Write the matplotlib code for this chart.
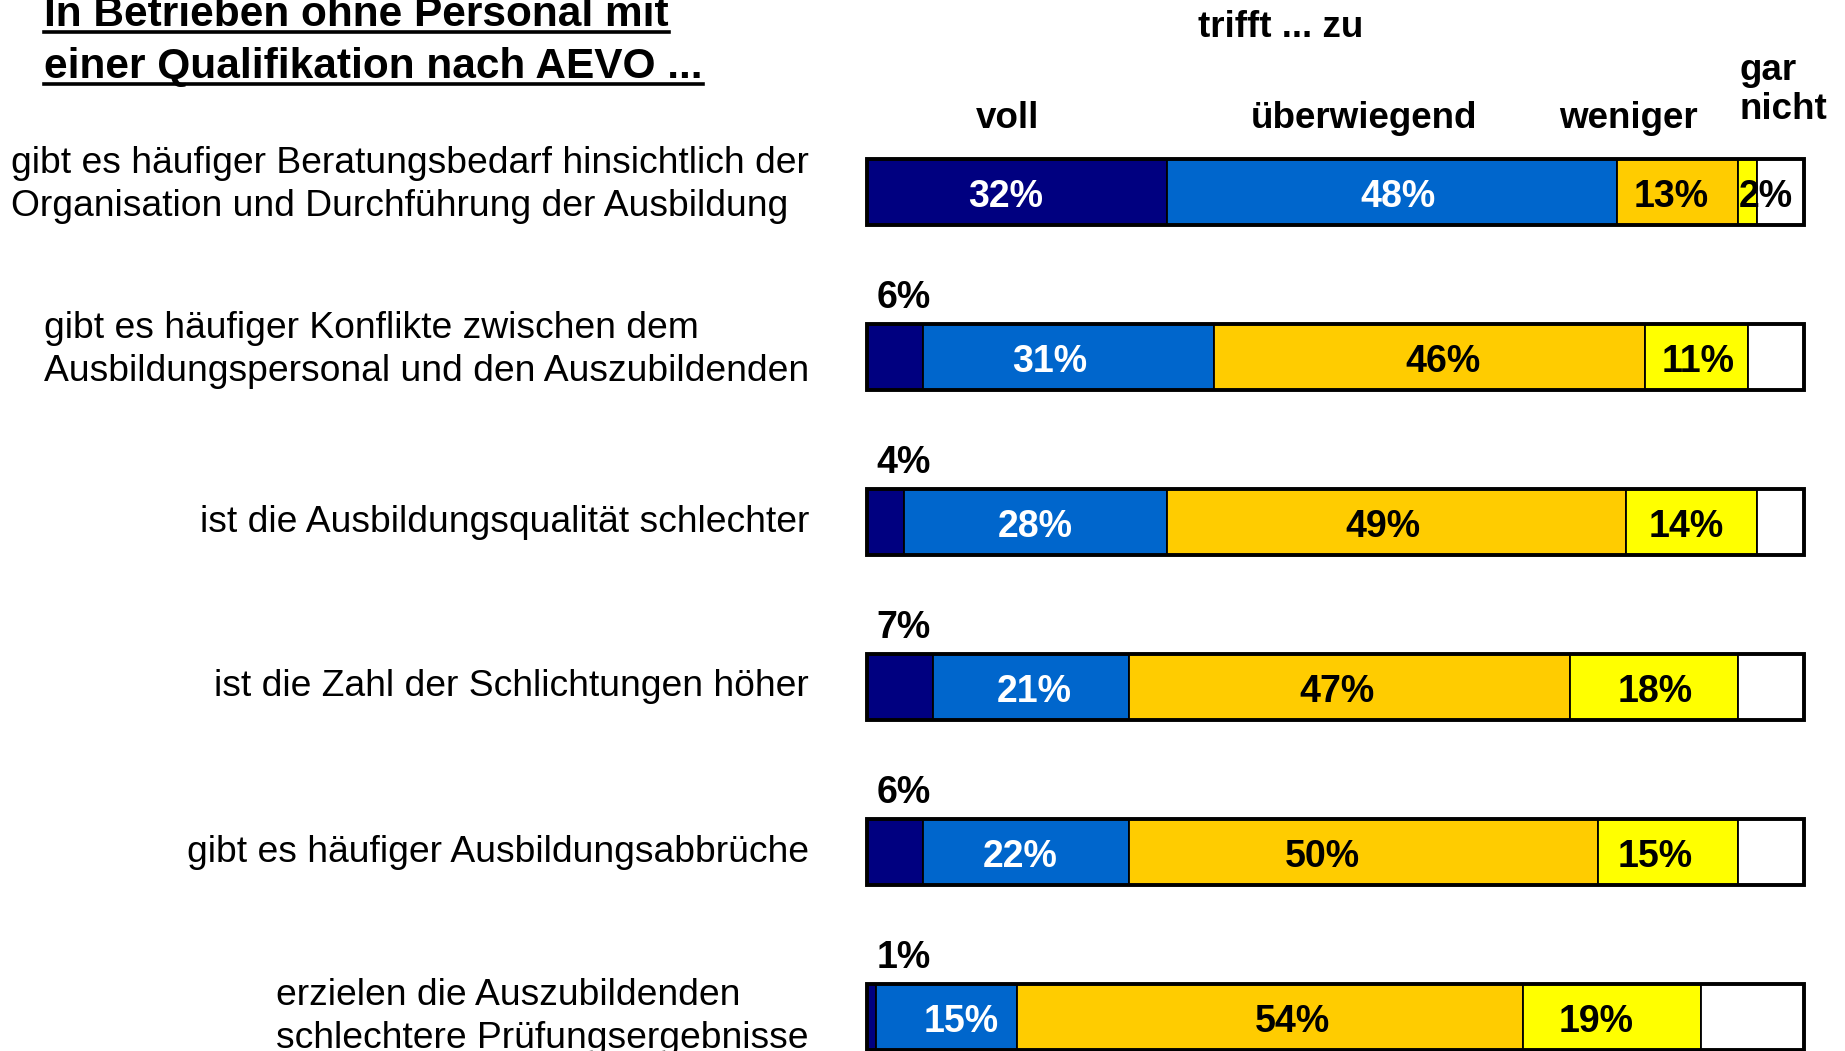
import matplotlib.pyplot as plt
import matplotlib.transforms as mtransforms
from matplotlib.lines import Line2D
import numpy as np

plt.rcParams['font.family'] = ['Liberation Sans', 'DejaVu Sans']

# Daten
aussagen = ['gibt es häufiger Beratungsbedarf hinsichtlich der\nOrganisation und Durchführung der Ausbildung',
            'gibt es häufiger Konflikte zwischen dem\nAusbildungspersonal und den Auszubildenden',
            'ist die Ausbildungsqualität schlechter',
            'ist die Zahl der Schlichtungen höher',
            'gibt es häufiger Ausbildungsabbrüche',
            'erzielen die Auszubildenden\nschlechtere Prüfungsergebnisse']
voll = [32, 6, 4, 7, 6, 1]
ueberwiegend = [48, 31, 28, 21, 22, 15]
weniger = [13, 46, 49, 47, 50, 54]
gar_nicht = [2, 11, 14, 18, 15, 19]
ohne_angabe = [5, 6, 5, 7, 7, 11]
kopf = ['voll', 'überwiegend', 'weniger', 'gar\nnicht']

series = [voll, ueberwiegend, weniger, gar_nicht, ohne_angabe]
colors = ['#000080', '#0066CC', '#FFCC00', '#FFFF00', '#FFFFFF']
text_colors = ['white', 'white', 'black', 'black', 'black']

# Verschiebung der Beschriftungen wie im Original (in %-Punkten)
label_dx = [[-1.2, 0.7, -0.7, 0],
            [0, -2.0, 1.5, 0.2],
            [0, 0, -1.4, -0.6],
            [0, 0.4, -1.3, 0.1],
            [0, -0.6, -4.4, -1.4],
            [0, 1.5, 2.4, -1.7]]

W, H = 1845, 1051
fig = plt.figure(figsize=(W / 100, H / 100), dpi=100)
ax = fig.add_axes([867 / W, 0, 937 / W, 1])
ax.set_xlim(0, 100)
# Zeile i liegt bei Pixel 192 + 165*i
ax.set_ylim((H - 192) / 165, -192 / 165)
ax.axis('off')

def py(px):
    # Pixelhöhe -> Datenkoordinate
    return (px - 192) / 165

y = np.arange(len(aussagen))
left = np.zeros(len(aussagen))
fs = 27
for k, vals in enumerate(series):
    vals = np.array(vals, dtype=float)
    ax.barh(y, vals, left=left, height=0.4, color=colors[k], edgecolor='black',
            linewidth=1.3, clip_on=False)
    if k < 4:
        for i, v in enumerate(vals):
            lab = '%d%%' % v
            if k == 0 and v < 10:
                ax.text(left[i] + 1.0, y[i] - 0.36, lab, ha='left', va='center',
                        fontsize=fs, fontweight='bold', color='black')
            elif v < 10:
                ax.text(left[i], y[i] + 0.03, lab, ha='left', va='center',
                        fontsize=fs, fontweight='bold', color='black')
            else:
                ax.text(left[i] + v / 2 + label_dx[i][k], y[i] + 0.03, lab,
                        ha='center', va='center', fontsize=fs, fontweight='bold',
                        color=text_colors[k])
    left += vals

# Rahmen um jeden Balken
ax.barh(y, left, height=0.4, fill=False, edgecolor='black', linewidth=2.8, clip_on=False)

# Spaltenköpfe
ax.text(44.1, py(28), 'trifft ... zu', ha='center', va='center', fontsize=26.5, fontweight='bold')
kopf_x = [15.0, 53.0, 81.3]
for xk, t in zip(kopf_x, kopf[:3]):
    ax.text(xk, py(119), t, ha='center', va='center', fontsize=26.5, fontweight='bold')
ax.text(93.1, py(90), kopf[3], ha='left', va='center', fontsize=26.5, fontweight='bold',
        linespacing=1.15)

# Beschriftung links
trans = mtransforms.blended_transform_factory(fig.transFigure, ax.transData)
for i, t in enumerate(aussagen):
    ax.text(809 / W, y[i] - (0.04 if '\n' in t and i < 2 else 0), t, transform=trans,
            ha='right', va='center', multialignment='left', fontsize=26.8, linespacing=1.3)

# Titel, unterstrichen
titel = ['In Betrieben ohne Personal mit', 'einer Qualifikation nach AEVO ...']
titel_y = [26, 78]
renderer = fig.canvas.get_renderer()
for t, yy in zip(titel, titel_y):
    txt = fig.text(44 / W, 1 - yy / H, t, ha='left', va='baseline', fontsize=30.5,
                   fontweight='bold')
    bb = txt.get_window_extent(renderer)
    ul = 1 - (yy + 6) / H
    fig.add_artist(Line2D([bb.x0 / W, bb.x1 / W], [ul, ul], transform=fig.transFigure,
                          color='black', linewidth=2.6))

fig.savefig('out.png', dpi=100)
